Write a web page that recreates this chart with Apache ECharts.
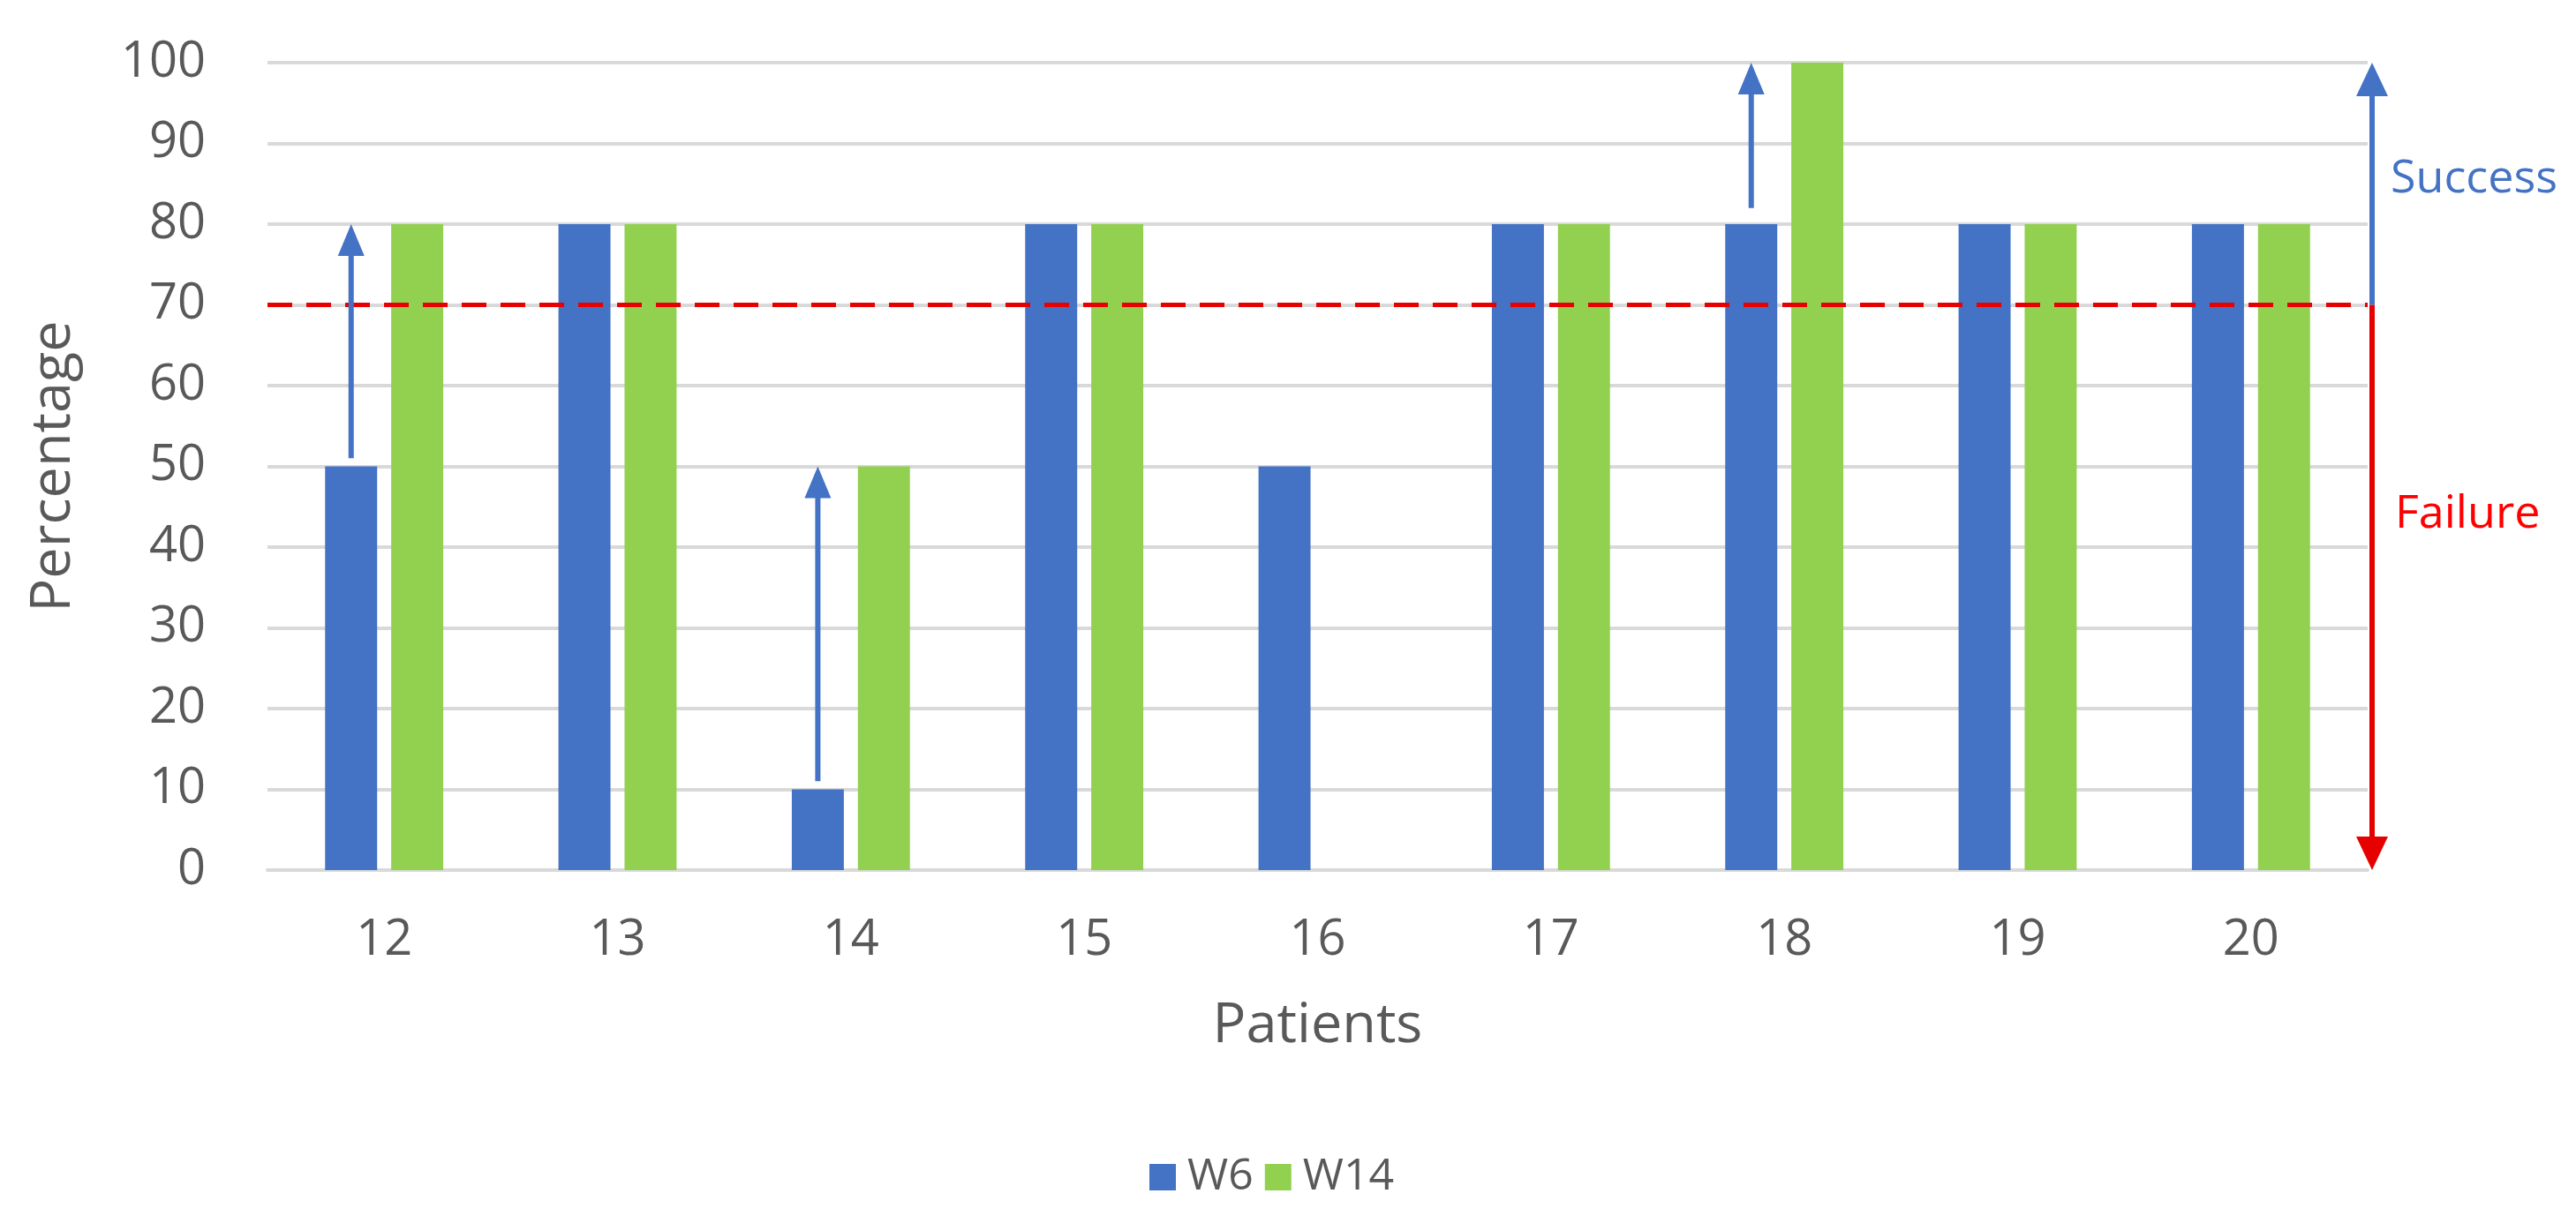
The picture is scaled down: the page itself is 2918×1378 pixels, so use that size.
<!DOCTYPE html>
<html>
<head>
<meta charset="utf-8">
<script src="https://cdn.jsdelivr.net/npm/echarts@6/dist/echarts.min.js"></script>
<style>
html,body{margin:0;padding:0;background:#ffffff;}
#chart{width:2918px;height:1378px;}
</style>
</head>
<body>
<div id="chart"></div>
<script>
// ---- data ----
const patients = ['12', '13', '14', '15', '16', '17', '18', '19', '20'];
const w6 = [50, 80, 10, 80, 50, 80, 80, 80, 80];
const w14 = [80, 80, 50, 80, null, 80, 100, 80, 80];
const yMin = 0, yMax = 100, yInterval = 10;
const threshold = 70;
// improvement arrows (from W6 value up to W14 level)
const arrowPatients = ['12', '14', '18'];
const arrowFrom = [51, 11, 82];
const arrowTo = [80, 50, 100];

// ---- styling ----
const BLUE = '#4472c4', GREEN = '#92d050', RED = '#e60000', TXT = '#595959';
const FONT = 'Open Sans';
const BAR_W = 0.223, BAR_GAP = 0.27; // fraction of band, fraction of bar width

const chart = echarts.init(document.getElementById('chart'));

const arrowData = arrowPatients.map((p, i) => [patients.indexOf(p), arrowFrom[i], arrowTo[i]]);
const sideData = [[patients.length - 1, threshold, yMax, yMin]];

function arrowHead(x, tipY, dir, w, h, color) {
  // dir = -1 pointing up, +1 pointing down
  return {
    type: 'polygon',
    shape: { points: [[x, tipY], [x - w / 2, tipY - dir * h], [x + w / 2, tipY - dir * h]] },
    style: { fill: color }
  };
}

const option = {
  backgroundColor: '#ffffff',
  animation: false,
  textStyle: { fontFamily: FONT },
  grid: { left: 303, right: 236, top: 71, bottom: 392, containLabel: false },
  legend: {
    data: ['W6', 'W14'],
    top: 1304,
    left: 1297,
    itemWidth: 30,
    itemHeight: 30,
    itemGap: 13,
    icon: 'rect',
    textStyle: { fontSize: 50, color: TXT, fontFamily: FONT, padding: [0, 0, 0, 8] }
  },
  xAxis: {
    type: 'category',
    data: patients,
    name: 'Patients',
    nameLocation: 'middle',
    nameGap: 146,
    nameTextStyle: { fontSize: 63, color: TXT, fontFamily: FONT },
    axisTick: { show: false },
    axisLine: { lineStyle: { color: '#d9d9d9', width: 4 } },
    axisLabel: { fontSize: 56, color: TXT, margin: 52, fontFamily: FONT }
  },
  yAxis: {
    type: 'value',
    min: yMin,
    max: yMax,
    interval: yInterval,
    name: 'Percentage',
    nameLocation: 'middle',
    nameGap: 210,
    nameTextStyle: { fontSize: 63, color: TXT, fontFamily: FONT },
    axisLine: { show: false },
    axisTick: { show: false },
    axisLabel: { fontSize: 56, color: TXT, margin: 70, fontFamily: FONT },
    splitLine: { lineStyle: { color: '#d9d9d9', width: 4 } }
  },
  series: [
    {
      name: 'W6',
      type: 'bar',
      data: w6,
      barWidth: (BAR_W * 100) + '%',
      barGap: (BAR_GAP * 100) + '%',
      itemStyle: { color: BLUE },
      markLine: {
        silent: true,
        symbol: ['none', 'none'],
        label: { show: false },
        lineStyle: { color: RED, width: 5, type: [28, 16] },
        data: [{ yAxis: threshold }]
      },
      z: 2
    },
    {
      name: 'W14',
      type: 'bar',
      data: w14,
      barWidth: (BAR_W * 100) + '%',
      barGap: (BAR_GAP * 100) + '%',
      itemStyle: { color: GREEN },
      z: 2
    },
    {
      name: 'arrows',
      type: 'custom',
      data: arrowData,
      encode: { x: 0, y: [1, 2] },
      z: 5,
      silent: true,
      renderItem: function (params, api) {
        const idx = api.value(0);
        const band = api.size([1, 0])[0];
        const off = -(BAR_W * band * (1 + BAR_GAP)) / 2;
        const p1 = api.coord([idx, api.value(1)]);
        const p2 = api.coord([idx, api.value(2)]);
        const x = p1[0] + off;
        const headH = 36, headW = 30;
        return {
          type: 'group',
          children: [
            { type: 'line', shape: { x1: x, y1: p1[1], x2: x, y2: p2[1] + headH - 2 }, style: { stroke: BLUE, lineWidth: 6 } },
            arrowHead(x, p2[1], -1, headW, headH, BLUE)
          ]
        };
      }
    },
    {
      name: 'side',
      type: 'custom',
      data: sideData,
      encode: { x: 0, y: [1, 2, 3] },
      z: 5,
      silent: true,
      clip: false,
      renderItem: function (params, api) {
        const idx = api.value(0);
        const band = api.size([1, 0])[0];
        const pT = api.coord([idx, api.value(1)]);
        const pTop = api.coord([idx, api.value(2)]);
        const pBot = api.coord([idx, api.value(3)]);
        const x = pT[0] + band / 2 + 5;
        const headH = 38, headW = 36;
        const ySucc = api.coord([idx, 85.5])[1];
        const yFail = api.coord([idx, 44])[1];
        return {
          type: 'group',
          children: [
            { type: 'line', shape: { x1: x, y1: pT[1], x2: x, y2: pTop[1] + headH - 2 }, style: { stroke: BLUE, lineWidth: 6 } },
            arrowHead(x, pTop[1], -1, headW, headH, BLUE),
            { type: 'line', shape: { x1: x, y1: pT[1], x2: x, y2: pBot[1] - headH + 2 }, style: { stroke: RED, lineWidth: 6 } },
            arrowHead(x, pBot[1], 1, headW, headH, RED),
            { type: 'text', style: { x: x + 21, y: ySucc, text: 'Success', fill: BLUE, fontSize: 52, fontFamily: FONT, verticalAlign: 'middle', align: 'left' } },
            { type: 'text', style: { x: x + 26, y: yFail, text: 'Failure', fill: '#ff0000', fontSize: 52, fontFamily: FONT, verticalAlign: 'middle', align: 'left' } }
          ]
        };
      }
    }
  ]
};
chart.setOption(option);
</script>
</body>
</html>
